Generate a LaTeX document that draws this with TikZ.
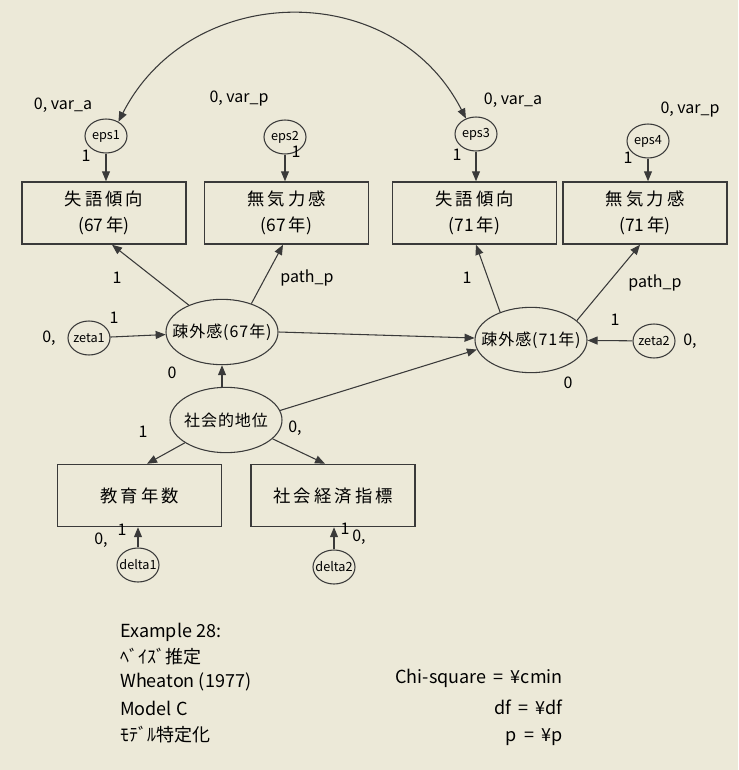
\documentclass[tikz,border=0pt]{standalone}
\usepackage{fontspec}
\setmainfont{Noto Sans CJK JP}
\newfontfamily\boxfont[LetterSpace=18]{Noto Sans CJK JP}
\newfontfamily\latfont[LetterSpace=6]{Noto Sans CJK JP}
\newfontfamily\capfont[WordSpace=1.8]{Noto Sans CJK JP}
\usetikzlibrary{arrows.meta,shapes.geometric,calc}
\definecolor{bg}{HTML}{ECE9D8}
\definecolor{ln}{HTML}{3A3A3A}
\begin{document}
\begin{tikzpicture}[x=0.75pt,y=-0.75pt,
  obs/.style={draw=ln, line width=1.1pt, minimum width=123pt, minimum height=46.5pt,
    inner sep=0pt, align=center, font=\fontsize{13}{19.5}\selectfont},
  lat/.style={ellipse, draw=ln, line width=0.8pt, minimum width=84pt, minimum height=49pt,
    inner sep=0pt, font=\latfont\fontsize{12}{14}\selectfont},
  err/.style={ellipse, draw=ln, line width=0.8pt, minimum width=31.5pt, minimum height=25.5pt,
    inner sep=0pt, font=\fontsize{9.5}{10}\selectfont},
  lab/.style={inner sep=0pt, font=\fontsize{12}{14}\selectfont},
  txt/.style={inner sep=0pt, font=\fontsize{13.5}{16}\selectfont},
  rtxt/.style={inner sep=0pt, font=\capfont\fontsize{13.5}{16}\selectfont},
  arr/.style={draw=ln, line width=0.8pt, -{Triangle[length=7.5pt,width=6pt]}},
  dbl/.style={draw=ln, line width=0.8pt, {Triangle[length=7.5pt,width=6pt]}-{Triangle[length=7.5pt,width=6pt]}}]
\fill[bg] (0,0) rectangle (738,770);
\useasboundingbox (0,0) rectangle (738,770);
% observed variables
\node[obs] (b1) at (104,213) {{\boxfont 失語傾向}\\(67\,年)};
\node[obs] (b2) at (286.5,213) {{\boxfont 無気力感}\\(67\,年)};
\node[obs] (b3) at (474.5,213) {{\boxfont 失語傾向}\\(71\,年)};
\node[obs] (b4) at (645,213) {{\boxfont 無気力感}\\(71\,年)};
\node[obs] (b5) at (139.5,495.5) {{\boxfont 教育年数}};
\node[obs] (b6) at (333,495.5) {{\boxfont 社会経済指標}};
% error terms
\node[err] (e1) at (106,136) {\makebox[0pt]{eps1}};
\node[err] (e2) at (285,137) {\makebox[0pt]{eps2}};
\node[err] (e3) at (476,134) {\makebox[0pt]{eps3}};
\node[err] (e4) at (648,141) {\makebox[0pt]{eps4}};
\node[err] (z1) at (89,338) {\makebox[0pt]{zeta1}};
\node[err] (z2) at (654,341) {\makebox[0pt]{zeta2}};
\node[err] (d1) at (138,565) {\makebox[0pt]{delta1}};
\node[err] (d2) at (334,567) {\makebox[0pt]{delta2}};
% latent variables
\node[lat] (L1) at (222,332) {\makebox[0pt]{疎外感(67年)}};
\node[lat] (L2) at (531,340) {\makebox[0pt]{疎外感(71年)}};
\node[lat] (S) at (226,420) {\makebox[0pt]{社会的地位}};
% connectors
\draw[arr] (e1) -- (e1 |- b1.north);
\draw[arr] (e2) -- (e2 |- b2.north);
\draw[arr] (e3) -- (e3 |- b3.north);
\draw[arr] (e4) -- (e4 |- b4.north);
\draw[arr] (L1.141) -- ($(b1.south)+(8,0)$);
\draw[arr] (L1.44) -- ($(b2.south)+(-3.5,0)$);
\draw[arr] (L2.138) -- ($(b3.south)+(1.5,0)$);
\draw[arr] (L2.23) -- ($(b4.south)+(-5,0)$);
\draw[arr] (z1) -- (L1);
\draw[arr] (z2) -- (L2);
\draw[arr] (S.north -| L1.south) -- (L1.south);
\draw[arr] (L1.east) -- (L2.178);
\draw[arr] (S.10) -- (L2.190);
\draw[arr] (S.209) -- ($(b5.north)+(7.5,0)$);
\draw[arr] (S.338) -- ($(b6.north)+(-8,0)$);
\draw[arr] (d1) -- (d1 |- b5.south);
\draw[arr] (d2) -- (d2 |- b6.south);
\draw[dbl] (e1.49) .. controls +(72,-141) and +(-72,-141) .. (e3.123);
% labels
\node[lab] (t1) at (63,105) {0, var\_a};
\node[lab] (t2) at (239,99) {0, var\_p};
\node[lab] (t3) at (513,100) {0, var\_a};
\node[lab] (t4) at (690,110) {0, var\_p};
\node[lab] (o1) at (86,156) {1};
\node[lab] (o2) at (296,152) {1};
\node[lab] (o3) at (457,155) {1};
\node[lab] (o4) at (628,158) {1};
\node[lab] (p1) at (117,278) {1};
\node[lab] (p2) at (307,278) {path\_p};
\node[lab] (p3) at (467,278) {1};
\node[lab] (p4) at (655,283) {path\_p};
\node[lab] (q1) at (114,318) {1};
\node[lab] (q2) at (49,338) {0,};
\node[lab] (q3) at (172,373) {0};
\node[lab] (r1) at (615,320) {1};
\node[lab] (r2) at (690,341) {0,};
\node[lab] (r3) at (568,383) {0};
\node[lab] (s1) at (143,432) {1};
\node[lab] (s2) at (295,428) {0,};
\node[lab] (u1) at (101,540) {0,};
\node[lab] (u2) at (122,530) {1};
\node[lab] (u3) at (345,529) {1};
\node[lab] (u4) at (359,537) {0,};
% caption text
\node[txt, anchor=west] (c1) at (120,632) {Example 28:};
\node[txt, anchor=west] (c2) at (120,657) {ﾍﾞｲｽﾞ推定};
\node[txt, anchor=west] (c3) at (120,682) {Wheaton (1977)};
\node[txt, anchor=west] (c4) at (120,708) {Model C};
\node[txt, anchor=west] (c5) at (120,735) {ﾓﾃﾞﾙ特定化};
\node[rtxt, anchor=east] (f1) at (563,678) {Chi-square = ¥cmin};
\node[rtxt, anchor=east] (f2) at (563,707) {df = ¥df};
\node[rtxt, anchor=east] (f3) at (563,737) {p = ¥p};
\end{tikzpicture}
\end{document}
